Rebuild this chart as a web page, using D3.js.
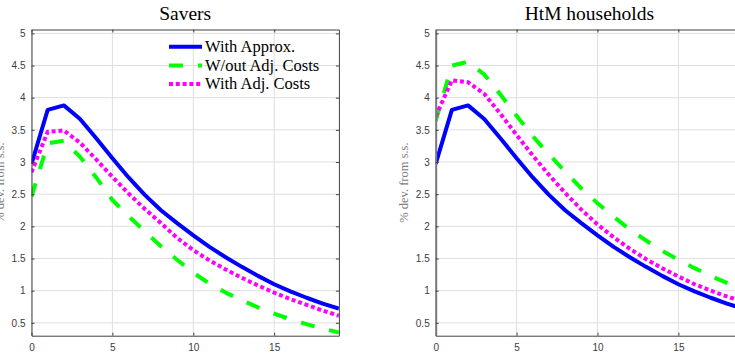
<!DOCTYPE html>
<html>
<head>
<meta charset="utf-8">
<script src="https://cdn.jsdelivr.net/npm/d3@7"></script>
<style>
  body { margin: 0; background: #fff; }
  svg { display: block; overflow: hidden; }
</style>
</head>
<body>
<svg id="chart" width="735" height="358"></svg>
<script>
// values
const periods = [0, 1, 2, 3, 4, 5, 6, 7, 8, 9, 10, 11, 12, 13, 14, 15, 16, 17, 18, 19];
const panelTitles = ['Savers', 'HtM households'];
const seriesNames = ['With Approx.', 'W/out Adj. Costs', 'With Adj. Costs'];

const saversApprox = [2.97, 3.81, 3.88, 3.67, 3.37, 3.06, 2.76, 2.49, 2.25, 2.05, 1.86, 1.68, 1.52, 1.37, 1.23, 1.10, 0.99, 0.89, 0.80, 0.72];
const saversNoAdj = [2.46, 3.29, 3.33, 3.08, 2.76, 2.41, 2.16, 1.92, 1.69, 1.48, 1.28, 1.11, 0.97, 0.85, 0.74, 0.645, 0.555, 0.48, 0.41, 0.35];
const saversAdj = [2.84, 3.47, 3.49, 3.30, 3.04, 2.77, 2.51, 2.27, 2.05, 1.82, 1.63, 1.47, 1.33, 1.20, 1.08, 0.97, 0.87, 0.78, 0.69, 0.61];

const htmApprox = [2.97, 3.81, 3.88, 3.67, 3.37, 3.06, 2.76, 2.49, 2.25, 2.05, 1.86, 1.68, 1.52, 1.37, 1.23, 1.10, 0.99, 0.89, 0.80, 0.72];
const htmNoAdj = [3.64, 4.50, 4.56, 4.36, 4.05, 3.72, 3.40, 3.12, 2.85, 2.59, 2.36, 2.15, 1.95, 1.78, 1.62, 1.48, 1.35, 1.23, 1.12, 1.02];
const htmAdj = [3.71, 4.27, 4.24, 4.06, 3.75, 3.42, 3.10, 2.80, 2.52, 2.26, 2.03, 1.83, 1.65, 1.49, 1.35, 1.22, 1.10, 1.00, 0.91, 0.83];

const xTicks = [0, 5, 10, 15];
const yTicks = [0.5, 1, 1.5, 2, 2.5, 3, 3.5, 4, 4.5, 5];
const yLabel = '% dev. from s.s.';

const colors = ['#0000ff', '#00ff00', '#ff00ff'];
const dashes = [null, '14,15', '4,2.8'];

const panels = [
  {title: panelTitles[0], series: [saversApprox, saversNoAdj, saversAdj], left: 31.5, legend: true, yAxisColor: '#404040', yAxisWidth: 1},
  {title: panelTitles[1], series: [htmApprox, htmNoAdj, htmAdj], left: 435.7, legend: false, yAxisColor: '#7a7a7a', yAxisWidth: 2}
];

const plotW = 307.4;
const plotTop = 29.5, plotBottom = 335.7;
const svg = d3.select('#chart');

const y = d3.scaleLinear().domain([0.3, 5.06]).range([plotBottom, plotTop]);
const fmt = d3.format('~g');

panels.forEach((p, pi) => {
  const x = d3.scaleLinear().domain([0, 19]).range([p.left, p.left + plotW]);
  const g = svg.append('g');

  // grid
  g.append('g')
    .selectAll('line')
    .data(xTicks)
    .join('line')
    .attr('x1', d => x(d)).attr('x2', d => x(d))
    .attr('y1', plotTop).attr('y2', plotBottom)
    .attr('stroke', '#dfdfdf').attr('stroke-width', 1);
  g.append('g')
    .selectAll('line')
    .data(yTicks)
    .join('line')
    .attr('x1', p.left).attr('x2', p.left + plotW)
    .attr('y1', d => y(d)).attr('y2', d => y(d))
    .attr('stroke', '#dfdfdf').attr('stroke-width', 1);

  // lines
  const clipId = 'clip' + pi;
  svg.append('clipPath').attr('id', clipId)
    .append('rect')
    .attr('x', p.left).attr('y', plotTop)
    .attr('width', plotW).attr('height', plotBottom - plotTop);

  const line = d3.line()
    .x((d, i) => x(periods[i]))
    .y(d => y(d));

  p.series.forEach((s, i) => {
    g.append('path')
      .datum(s)
      .attr('clip-path', `url(#${clipId})`)
      .attr('fill', 'none')
      .attr('stroke', colors[i])
      .attr('stroke-width', 4)
      .attr('stroke-linejoin', 'round')
      .attr('stroke-dasharray', dashes[i])
      .attr('d', line);
  });

  // axes, ticks pointing inward
  const ax = g.append('g')
    .style('font-family', '"Liberation Sans", Arial, sans-serif')
    .style('font-size', '11.5px');

  ax.append('g')
    .attr('transform', `translate(0,${plotBottom})`)
    .call(d3.axisBottom(x).tickValues(xTicks).tickFormat(fmt).tickSize(-3).tickSizeOuter(0).tickPadding(8));
  ax.append('g')
    .attr('transform', `translate(0,${plotTop})`)
    .call(d3.axisTop(x).tickValues(xTicks).tickSize(-3).tickSizeOuter(0).tickFormat(''));
  ax.append('g')
    .attr('transform', `translate(${p.left + plotW},0)`)
    .call(d3.axisRight(y).tickValues(yTicks).tickSize(-3).tickSizeOuter(0).tickFormat(''));
  const yAx = ax.append('g')
    .attr('transform', `translate(${p.left},0)`)
    .call(d3.axisLeft(y).tickValues(yTicks).tickFormat(fmt).tickSize(-3).tickSizeOuter(0).tickPadding(6));

  ax.selectAll('.domain').attr('stroke', '#404040');
  ax.selectAll('.tick line').attr('stroke', '#404040');
  ax.selectAll('.tick text').attr('fill', '#3c3c3c');
  yAx.select('.domain').attr('stroke', p.yAxisColor).attr('stroke-width', p.yAxisWidth);

  // title
  g.append('text')
    .attr('x', p.left + plotW / 2)
    .attr('y', 20)
    .attr('text-anchor', 'middle')
    .style('font-family', '"Liberation Serif", "Times New Roman", serif')
    .style('font-size', '19.5px')
    .style('font-weight', 'normal')
    .attr('fill', '#000')
    .text(p.title);

  // y label (left one runs off the picture, as in the original)
  g.append('text')
    .attr('transform', `translate(${p.left - 28},${(plotTop + plotBottom) / 2}) rotate(-90)`)
    .attr('text-anchor', 'middle')
    .style('font-family', '"Liberation Serif", "Times New Roman", serif')
    .style('font-size', '12.5px')
    .attr('fill', '#808080')
    .text(yLabel);

  // legend
  if (p.legend) {
    const leg = g.append('g');
    const rowY = [46.7, 65.5, 84];
    seriesNames.forEach((name, i) => {
      leg.append('line')
        .attr('x1', 169).attr('x2', 202)
        .attr('y1', rowY[i]).attr('y2', rowY[i])
        .attr('stroke', colors[i])
        .attr('stroke-width', 4)
        .attr('stroke-dasharray', dashes[i]);
      leg.append('text')
        .attr('x', 205)
        .attr('y', rowY[i] + 5)
        .style('font-family', '"Liberation Serif", "Times New Roman", serif')
        .style('font-size', '16.5px')
        .attr('fill', '#000')
        .text(name);
    });
  }
});
</script>
</body>
</html>
